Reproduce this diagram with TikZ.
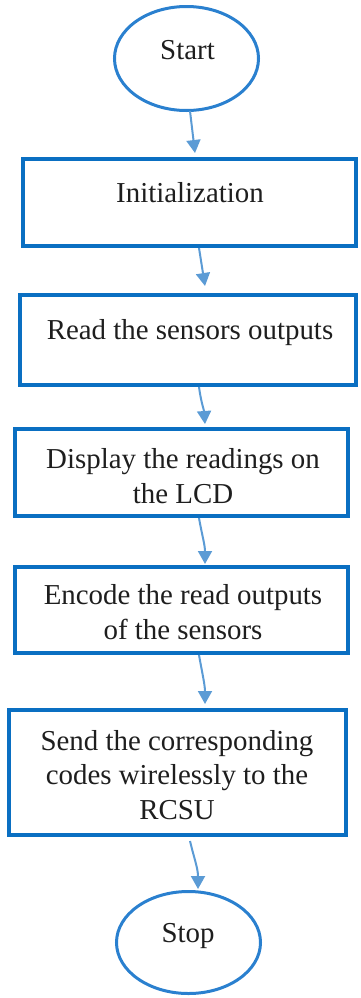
\documentclass[tikz,border=0pt]{standalone}
\usepackage{fontspec}
\setmainfont{Liberation Serif}
\usetikzlibrary{arrows.meta,positioning,calc}
\definecolor{boxblue}{HTML}{0A6FC2}
\definecolor{ellblue}{HTML}{2A80CF}
\definecolor{arrblue}{HTML}{5B9BD5}
\definecolor{txt}{HTML}{1E1E1E}
\tikzset{
  procbox/.style={draw=boxblue, line width=4bp, rectangle, inner sep=0pt},
  termell/.style={draw=ellblue, line width=3bp, ellipse, inner sep=0pt, minimum width=144bp, minimum height=104bp},
  lbl/.style={text=txt, font=\fontsize{29}{35}\selectfont, align=center, inner sep=0pt},
  flow/.style={draw=arrblue, line width=2bp, -{Triangle[length=13bp,width=14bp]}}
}
\usetikzlibrary{shapes.geometric}
\begin{document}
\begin{tikzpicture}[x=1bp,y=-1bp]
\useasboundingbox (0,0) rectangle (360,998);
% terminals
\node[termell] (start) at (186.5,58.5) {};
\node[lbl] (tstart) at (187.5,50) {Start};
\node[termell, minimum height=102bp] (stop) at (188.5,942.5) {};
\node[lbl] (tstop) at (188,936) {Stop};
% process boxes
\node[procbox, minimum width=333bp, minimum height=87bp] (init) at (189.5,202.5) {};
\node[lbl] (tinit) at (190,193) {Initialization};
\node[procbox, minimum width=336bp, minimum height=90bp] (read) at (188,340) {};
\node[lbl] (tread) at (190,333) {Read the sensors outputs};
\node[procbox, minimum width=333bp, minimum height=87bp] (disp) at (181.5,472.5) {};
\node[lbl] (tdisp) at (183,476) {Display the readings on\\the LCD};
\node[procbox, minimum width=333bp, minimum height=86bp] (enc) at (181.5,610) {};
\node[lbl] (tenc) at (183,612) {Encode the read outputs\\of the sensors};
\node[procbox, minimum width=337bp, minimum height=125bp] (send) at (177.5,772.5) {};
\node[lbl] (tsend) at (177,775) {Send the corresponding\\codes wirelessly to the\\RCSU};
% end points of connectors
\coordinate (a1s) at (190,111);
\coordinate (a1e) at (195,153);
\coordinate (a2s) at (199,248);
\coordinate (a2e) at (205,286);
\coordinate (a3s) at (199,387);
\coordinate (a3e) at (205,424);
\coordinate (a4s) at (199,518);
\coordinate (a4e) at (205,564);
\coordinate (a5s) at (199,655);
\coordinate (a5e) at (205,704);
\coordinate (a6s) at (190,841);
\coordinate (a6e) at (198,889);
% connectors
\draw[flow] (a1s) -- (a1e);
\draw[flow] (a2s) -- (a2e);
\draw[flow] (a3s) .. controls (201,402) and (204,410) .. (a3e);
\draw[flow] (a4s) .. controls (202,535) and (205,545) .. (a4e);
\draw[flow] (a5s) .. controls (202,672) and (205,685) .. (a5e);
\draw[flow] (a6s) .. controls (194,858) and (198,868) .. (a6e);
\end{tikzpicture}
\end{document}
